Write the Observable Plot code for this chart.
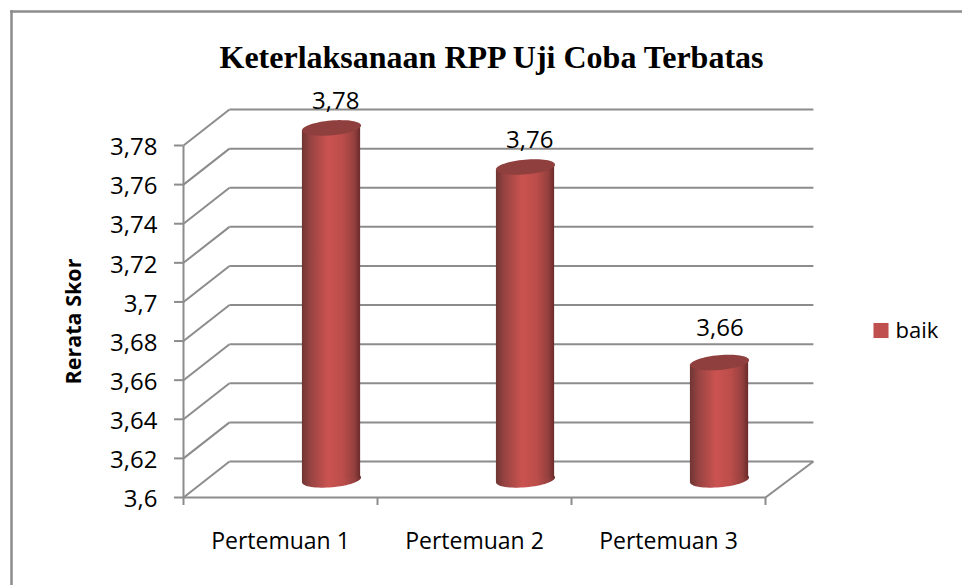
<!DOCTYPE html>
<html>
<head>
<meta charset="utf-8">
<script src="https://cdn.jsdelivr.net/npm/d3@7"></script>
<script src="https://cdn.jsdelivr.net/npm/@observablehq/plot@0.6"></script>
<style>html,body{margin:0;padding:0;background:#fff}svg{display:block}</style>
</head>
<body>
<div id="chart"></div>
<script>
const categories = ["Pertemuan 1", "Pertemuan 2", "Pertemuan 3"];
const values = [3.78, 3.76, 3.66];
const labels = ["3,78", "3,76", "3,66"];
const yTicks = [3.6, 3.62, 3.64, 3.66, 3.68, 3.7, 3.72, 3.74, 3.76, 3.78];
const title = "Keterlaksanaan RPP Uji Coba Terbatas";
const yTitle = "Rerata Skor";
const seriesName = "baik";

const depthX = 0.237, backEnd = 3.247, depthY = 0.0184;
const halfDepthY = 0.0090, barOffset = 0.763, barHalf = 0.15, tiltY = 0.00128;
const grid = "#8c8c8c", uiFont = "'Open Sans', sans-serif";
const rows = categories.map((c, i) => ({c, i, v: values[i], label: labels[i]}));
const body = rows.flatMap(r => [-1, 1].map(s => ({
  c: r.c,
  x: r.i + barOffset + s * barHalf,
  y1: 3.6 + halfDepthY + s * tiltY,
  y2: r.v + halfDepthY + s * tiltY
})));
const tilted = {
  draw(ctx, size) {
    const r = Math.sqrt(size / Math.PI), a = r / Math.cos(5 * Math.PI / 180), b = r * 0.25, t = -5 * Math.PI / 180;
    for (let k = 0; k <= 64; ++k) {
      const u = k / 64 * 2 * Math.PI, ex = a * Math.cos(u), ey = b * Math.sin(u);
      const px = ex * Math.cos(t) - ey * Math.sin(t), py = ex * Math.sin(t) + ey * Math.cos(t);
      k ? ctx.lineTo(px, py) : ctx.moveTo(px, py);
    }
    ctx.closePath();
  }
};
const defs = () => {
  const d = d3.create("svg:defs");
  const g = d.append("linearGradient").attr("id", "cyl").attr("x1", 0).attr("x2", 1).attr("y1", 0).attr("y2", 0);
  [[0, "#6f3533"], [0.14, "#964342"], [0.45, "#cb5350"], [0.7, "#bb4d4a"], [0.9, "#94403e"], [1, "#692b2a"]]
    .forEach(([o, c]) => g.append("stop").attr("offset", o).attr("stop-color", c));
  return d.node();
};

const chart = Plot.plot({
  width: 962, height: 585,
  marginLeft: 183, marginRight: 197, marginTop: 145, marginBottom: 88,
  x: {domain: [0, 3], axis: null},
  y: {domain: [3.6, 3.78], axis: null},
  style: {background: "#fff", overflow: "visible"},
  marks: [
    defs,
    Plot.frame({anchor: "top", stroke: "#8c8c8c", strokeWidth: 2.5, insetTop: -134, insetLeft: -172, insetRight: -197}),
    Plot.frame({anchor: "left", stroke: "#8c8c8c", strokeWidth: 2.5, insetLeft: -172, insetTop: -134, insetBottom: -88}),
    // back wall and side wall of the 3D box
    Plot.link(yTicks, {x1: depthX, x2: backEnd, y1: d => d + depthY, y2: d => d + depthY, stroke: grid, strokeWidth: 2}),
    Plot.link(yTicks, {x1: 0, x2: depthX, y1: d => d, y2: d => d + depthY, stroke: grid, strokeWidth: 2}),
    Plot.link([3.6], {x1: 3, x2: backEnd, y1: d => d, y2: d => d + depthY, stroke: grid, strokeWidth: 2}),
    Plot.link([3.6], {x1: 0, x2: 3, y1: d => d, y2: d => d, stroke: grid, strokeWidth: 2}),
    Plot.link([0], {x1: 0, x2: 0, y1: 3.6, y2: 3.78, stroke: grid, strokeWidth: 2}),
    // axes
    Plot.axisY({ticks: yTicks, tickSize: 9, stroke: grid, strokeWidth: 2, tickFormat: () => "", label: null}),
    Plot.axisY({ticks: yTicks, tickSize: 0, tickPadding: 26, color: "#000", dy: 2,
      tickFormat: d => String(d).replace(".", ","), fontSize: 24, fontFamily: uiFont, label: null}),
    Plot.axisX({ticks: [0, 1, 2, 3], tickSize: 8, stroke: grid, strokeWidth: 2, tickFormat: () => "", label: null}),
    Plot.axisX({ticks: [0.5, 1.5, 2.5], tickSize: 0, tickPadding: 35, color: "#000",
      tickFormat: d => categories[Math.floor(d)], fontSize: 23, fontFamily: uiFont, label: null}),
    // cylinders
    Plot.dot(rows, {x: d => d.i + barOffset, y: () => 3.6 + halfDepthY, r: 29.5, symbol: tilted, fill: "url(#cyl)"}),
    Plot.areaY(body, {x: "x", y1: "y1", y2: "y2", z: "c", fill: "url(#cyl)"}),
    Plot.dot(rows, {x: d => d.i + barOffset, y: d => d.v + halfDepthY, r: 29.5, symbol: tilted, fill: "#8f3f3d"}),
    // value labels
    Plot.text(rows.filter(r => r.i < 2), {x: d => d.i + 0.785, y: "v", text: "label", dy: -44, fontSize: 24, fontFamily: uiFont, fill: "#000"}),
    Plot.text(rows.filter(r => r.i === 2), {x: d => d.i + 0.765, y: "v", text: "label", dy: -52, fontSize: 24, fontFamily: uiFont, fill: "#000"}),
    // titles and legend
    Plot.text([title], {frameAnchor: "top-left", dx: 308, dy: -88, text: d => d, textAnchor: "middle", lineAnchor: "middle", fontFamily: "Liberation Serif", fontWeight: "bold", fontSize: 32, fill: "#000"}),
    Plot.text([yTitle], {frameAnchor: "left", dx: -109, dy: 0, text: d => d, rotate: -90, textAnchor: "middle", fontFamily: uiFont, fontWeight: "bold", fontSize: 21.5, fill: "#000"}),
    Plot.dot([seriesName], {frameAnchor: "right", dx: 115.5, dy: 9, symbol: "square", r: 8.5, fill: "#c0504d"}),
    Plot.text([seriesName], {frameAnchor: "right", dx: 130, dy: 9, text: d => d, textAnchor: "start", fontFamily: uiFont, fontSize: 22, fill: "#000"})
  ]
});
document.getElementById("chart").append(chart);
</script>
</body>
</html>
